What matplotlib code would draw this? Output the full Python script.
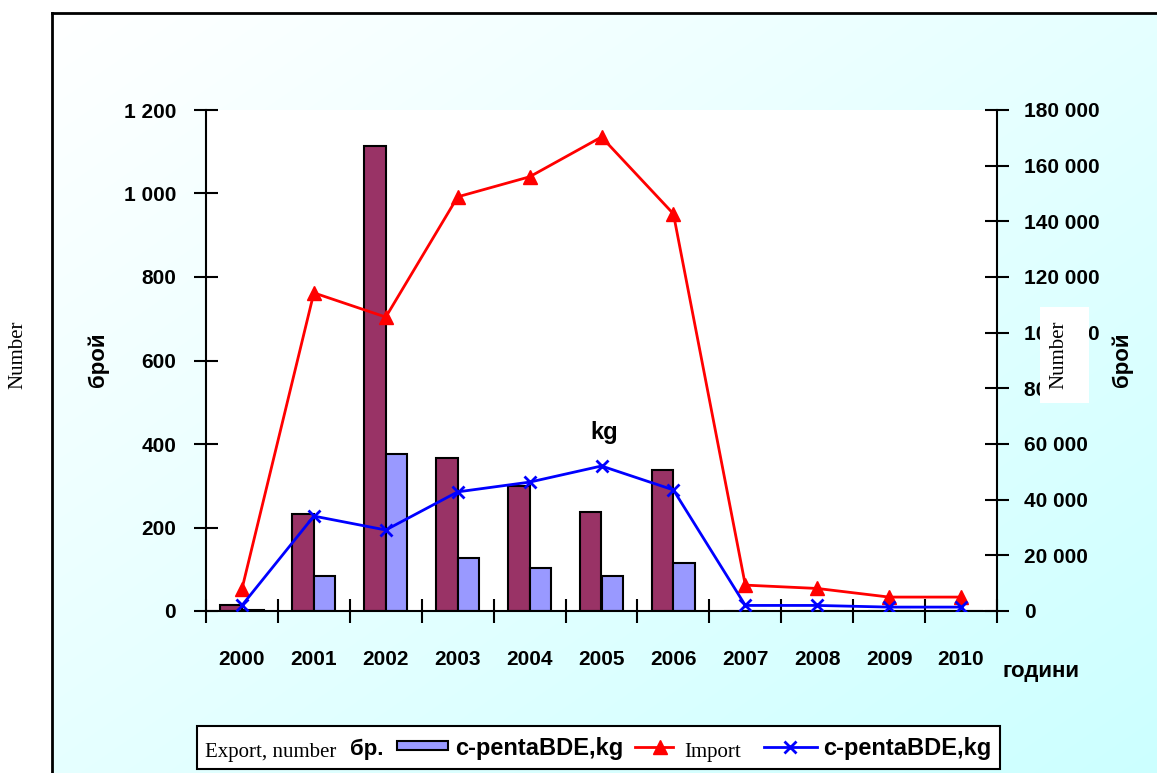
import numpy as np
import matplotlib
matplotlib.use("Agg")
import matplotlib.pyplot as plt
from matplotlib.patches import Rectangle
from matplotlib.lines import Line2D
from matplotlib.ticker import FuncFormatter

plt.rcParams['font.family'] = ['Liberation Sans', 'DejaVu Sans']

# ---- data ----
years = ['2000', '2001', '2002', '2003', '2004', '2005', '2006', '2007', '2008', '2009', '2010']
export_number = [15, 232, 1114, 366, 299, 237, 338, 0, 0, 0, 0]
export_kg = [2, 84, 376, 127, 102, 84, 115, 0, 0, 0, 0]
import_number = [7900, 114300, 105600, 148800, 156000, 170300, 142700, 9300, 8100, 5000, 5000]
import_kg = [2000, 34100, 29100, 42800, 46300, 52100, 43500, 2000, 2000, 1400, 1400]
left_ticks = [0, 200, 400, 600, 800, 1000, 1200]
right_ticks = [0, 20000, 40000, 60000, 80000, 100000, 120000, 140000, 160000, 180000]

W, H = 1157, 773
fig = plt.figure(figsize=(W / 100, H / 100), dpi=100)
fig.patch.set_facecolor('white')


def fx(x):
    return x / W


def fy(y):
    return 1 - y / H


def rect(x0, y0, x1, y1):
    return [fx(x0), fy(y1), fx(x1) - fx(x0), fy(y0) - fy(y1)]


# ---- gradient background with border ----
bg = fig.add_axes(rect(52, 13, W + 5, H + 5), zorder=-5)
nx, ny = 200, 150
u = np.linspace(0, 1, nx)[None, :]
v = np.linspace(0, 1, ny)[:, None]
t = (u + v) / 2
img = np.zeros((ny, nx, 3))
img[..., 0] = 1 - 0.2 * t
img[..., 1] = 1
img[..., 2] = 1
bg.imshow(img, extent=[0, 1, 1, 0], aspect='auto', interpolation='bilinear')
bg.set_xlim(0, 1)
bg.set_ylim(1, 0)
bg.set_xticks([])
bg.set_yticks([])
for s in ['right', 'bottom']:
    bg.spines[s].set_visible(False)
for s in ['left', 'top']:
    bg.spines[s].set_linewidth(2)
    bg.spines[s].set_color('black')

fmt = FuncFormatter(lambda val, p: f"{int(val):,}".replace(',', ' '))

# ---- main axes ----
ax = fig.add_axes(rect(206, 110, 997, 611))
ax.set_facecolor('white')
x = np.arange(len(years))
bw = 0.3
ax.bar(x - bw / 2, export_number, bw, color='#993366', edgecolor='black', linewidth=1.5, zorder=2)
ax.bar(x + bw / 2, export_kg, bw, color='#9999FF', edgecolor='black', linewidth=1.5, zorder=2)
ax.set_xlim(-0.5, len(years) - 0.5)
ax.set_ylim(0, 1200)
ax.set_yticks(left_ticks)
ax.yaxis.set_major_formatter(fmt)
ax.set_xticks(np.arange(-0.5, len(years)), labels=[''] * (len(years) + 1))
ax.set_xticks(x, labels=years, minor=True)
ax.tick_params(axis='x', which='major', direction='inout', length=17, width=1.5)
ax.tick_params(axis='x', which='minor', length=0, pad=28, labelsize=15)
ax.tick_params(axis='y', which='major', direction='inout', length=17, width=1.5, pad=13, labelsize=15)
for lab in ax.get_xticklabels(minor=True) + ax.get_yticklabels():
    lab.set_fontweight('bold')
ax.spines['top'].set_visible(False)
ax.spines['right'].set_visible(False)
ax.spines['left'].set_linewidth(1.5)
ax.spines['bottom'].set_linewidth(1.5)

# ---- secondary axis ----
ax2 = ax.twinx()
ax2.plot(x, import_number, color='#FF0000', linewidth=2, marker='^', markersize=10,
         markerfacecolor='#FF0000', markeredgecolor='#FF0000', zorder=3)
ax2.plot(x, import_kg, color='#0000FF', linewidth=2, marker='x', markersize=9,
         markeredgewidth=2, zorder=3)
ax2.set_ylim(0, 180000)
ax2.set_yticks(right_ticks)
ax2.yaxis.set_major_formatter(fmt)
ax2.tick_params(axis='y', which='major', direction='inout', length=17, width=1.5, pad=11, labelsize=15)
for lab in ax2.get_yticklabels():
    lab.set_fontweight('bold')
for s in ['top', 'left', 'bottom']:
    ax2.spines[s].set_visible(False)
ax2.spines['right'].set_linewidth(1.5)

# ---- texts ----
fig.text(fx(98), fy(360), 'брой', rotation=90, ha='center', va='center', fontsize=16, fontweight='bold')
fig.text(fx(1122), fy(360), 'брой', rotation=90, ha='center', va='center', fontsize=16, fontweight='bold')
fig.text(fx(18), fy(355), 'Number', rotation=90, ha='center', va='center', fontsize=15,
         family='Liberation Serif')
fig.text(fx(1041), fy(672), 'години', ha='center', va='center', fontsize=16, fontweight='bold')
fig.text(fx(604), fy(432), 'kg', ha='center', va='center', fontsize=17, fontweight='bold')

# white box with "Number" on right
fig.patches.append(Rectangle((fx(1040), fy(403)), fx(1089) - fx(1040), fy(307) - fy(403),
                             transform=fig.transFigure, facecolor='white', edgecolor='none', zorder=5))
fig.text(fx(1059), fy(355), 'Number', rotation=90, ha='center', va='center', fontsize=15,
         family='Liberation Serif', zorder=6)

# ---- legend ----
fig.patches.append(Rectangle((fx(197), fy(769)), fx(1000) - fx(197), fy(726) - fy(769),
                             transform=fig.transFigure, facecolor='white', edgecolor='black',
                             linewidth=1.5, zorder=5))
ly = 752
fig.text(fx(205), fy(ly), 'Export, number', ha='left', va='center', fontsize=15,
         family='Liberation Serif', zorder=6)
fig.text(fx(350), fy(ly - 3), 'бр.', ha='left', va='center', fontsize=16, fontweight='bold', zorder=6)
fig.patches.append(Rectangle((fx(397), fy(750)), fx(448) - fx(397), fy(741) - fy(750),
                             transform=fig.transFigure, facecolor='#9999FF', edgecolor='black',
                             linewidth=1.5, zorder=6))
fig.text(fx(455), fy(ly - 3), 'c-pentaBDE,kg', ha='left', va='center', fontsize=17, fontweight='bold', zorder=6)
fig.lines.append(Line2D([fx(635), fx(673)], [fy(747), fy(747)], transform=fig.transFigure,
                        color='#FF0000', linewidth=2, zorder=6))
fig.lines.append(Line2D([fx(660)], [fy(747)], transform=fig.transFigure, marker='^', markersize=10,
                        color='#FF0000', linestyle='none', zorder=7))
fig.text(fx(684), fy(ly), 'Import', ha='left', va='center', fontsize=15,
         family='Liberation Serif', zorder=6)
fig.lines.append(Line2D([fx(764), fx(817)], [fy(747), fy(747)], transform=fig.transFigure,
                        color='#0000FF', linewidth=2, zorder=6))
fig.lines.append(Line2D([fx(790)], [fy(747)], transform=fig.transFigure, marker='x', markersize=8,
                        markeredgewidth=2, color='#0000FF', linestyle='none', zorder=7))
fig.text(fx(823), fy(ly - 3), 'c-pentaBDE,kg', ha='left', va='center', fontsize=17, fontweight='bold', zorder=6)

fig.savefig('out.png', dpi=100)
